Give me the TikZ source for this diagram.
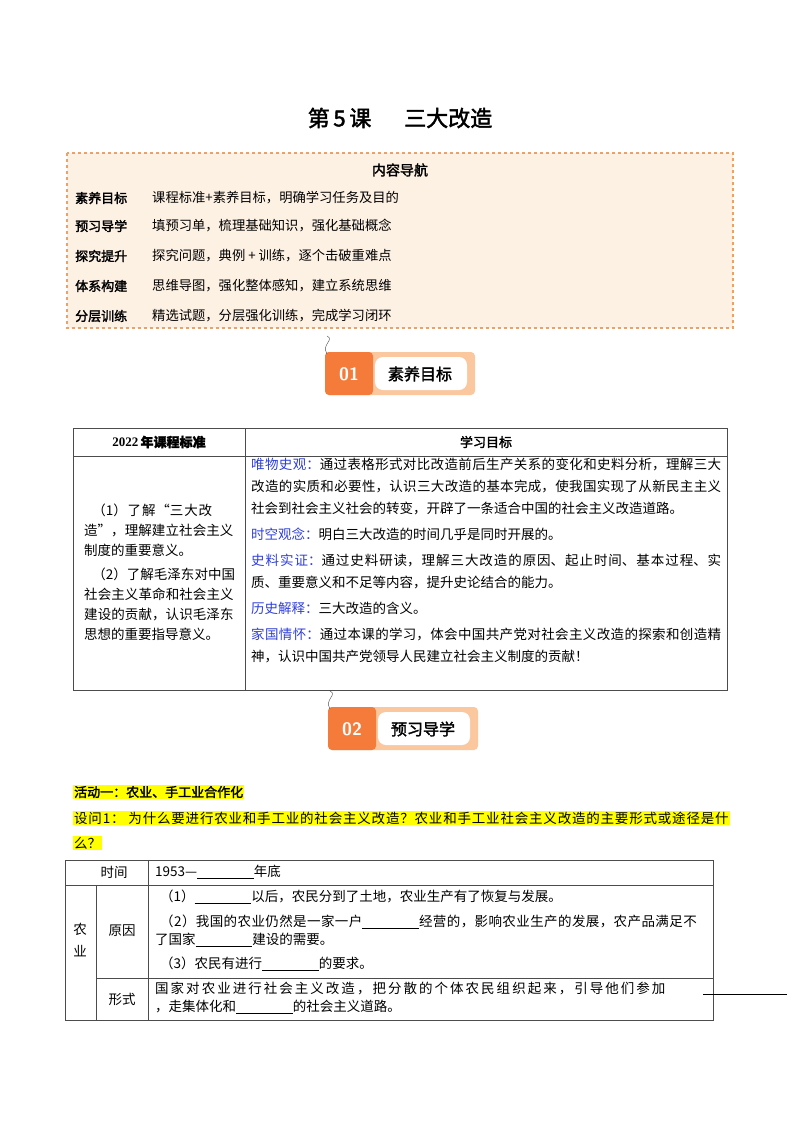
\documentclass[tikz,border=0pt]{standalone}
\usepackage{fontspec}
\setmainfont{Liberation Serif}
\newfontfamily\cjk{Noto Sans CJK SC}
\newfontfamily\cjkb{Noto Sans CJK SC}[FakeBold=2]
\XeTeXlinebreaklocale "zh"
\XeTeXlinebreakskip=0pt plus 1pt
\definecolor{navfill}{HTML}{FDF1E4}
\definecolor{navline}{HTML}{F0A060}
\definecolor{bor}{HTML}{F47B3A}
\definecolor{borl}{HTML}{FBC79F}
\definecolor{blu}{HTML}{2F3FD8}
\definecolor{hl}{HTML}{FFFF00}
\tikzset{t/.style={anchor=west,inner sep=0pt,font=\cjk\fontsize{13.5}{14}\selectfont},
 tn/.style={t,font=\cjk\fontsize{13.3}{14}\selectfont},
 tb/.style={t,font=\cjkb\fontsize{13}{14}\selectfont},
 tx/.style={t,font=\cjk\fontsize{13.5}{22}\selectfont,align=justify},
 ln/.style={draw=black!70,line width=0.8pt}}
\begin{document}
\begin{tikzpicture}[x=1pt,y=-1pt]
\useasboundingbox (0,0) rectangle (800,1132);
\node (title) at (400,118) {\cjkb\fontsize{22}{26}\selectfont 第\,5\,课\hspace{1.5em}三大改造};
% nav
\draw[navline,dashed,line width=1.2pt,fill=navfill] (67,153) rectangle (733,328);
\node (navh) at (400,170) {\cjkb\fontsize{14}{16}\selectfont 内容导航};
\foreach \y/\a/\b in {198/素养目标/课程标准+素养目标，明确学习任务及目的,
 226/预习导学/填预习单，梳理基础知识，强化基础概念,
 256/探究提升/探究问题，典例 + 训练，逐个击破重难点,
 286/体系构建/思维导图，强化整体感知，建立系统思维,
 316/分层训练/精选试题，分层强化训练，完成学习闭环}{
 \node[tb] at (75,\y) {\a}; \node[tn] at (152,\y) {\b};}
% badges
\foreach \bx/\by/\num/\lab/\nm in {325/352/01/素养目标/ba,328/707/02/预习导学/bb}{
 \fill[borl,rounded corners=4pt] (\bx,\by) rectangle ++(150,43);
 \fill[bor,rounded corners=4pt] (\bx,\by) rectangle ++(48,43);
 \fill[white,rounded corners=8pt] ({\bx+50},{\by+5}) rectangle ++(92,33);
 \node[white,font=\sffamily\bfseries\fontsize{18}{18}\selectfont] at ({\bx+24},{\by+22}) {\num};
 \node (\nm) at ({\bx+95},{\by+22}) {\cjkb\fontsize{16}{18}\selectfont \lab};
 \draw[black!70] ({\bx+2},{\by+2}) .. controls ({\bx-4},{\by-8}) and ({\bx+10},{\by-12}) .. ({\bx+2},{\by-16});
}
% table 1
\draw[ln] (73,428) rectangle (727,690);
\draw[ln] (73,456) -- (727,456);
\draw[ln] (245,428) -- (245,690);
\node (h1) at (159,442) {\bfseries\fontsize{13}{14}\selectfont 2022\,\cjkb 年课程标准};
\node (h2) at (486,442) {\cjkb\fontsize{13}{14}\selectfont 学习目标};
\node[t,font=\cjk\fontsize{13.5}{20}\selectfont,text width=152pt,align=left] at (84,572) {\hspace*{0.6em}（1）了解“三大改造”，理解建立社会主义制度的重要意义。\par\vspace{4pt}\hspace*{0.6em}（2）了解毛泽东对中国社会主义革命和社会主义建设的贡献，认识毛泽东思想的重要指导意义。};
\node[tx,text width=470pt,anchor=north west] at (251,458) {\textcolor{blu}{唯物史观：}通过表格形式对比改造前后生产关系的变化和史料分析，理解三大改造的实质和必要性，认识三大改造的基本完成，使我国实现了从新民主主义社会到社会主义社会的转变，开辟了一条适合中国的社会主义改造道路。\par\vspace{4pt}
\textcolor{blu}{时空观念：}明白三大改造的时间几乎是同时开展的。\par\vspace{4pt}
\textcolor{blu}{史料实证：}通过史料研读，理解三大改造的原因、起止时间、基本过程、实质、重要意义和不足等内容，提升史论结合的能力。\par\vspace{4pt}
\textcolor{blu}{历史解释：}三大改造的含义。\par\vspace{4pt}
\textcolor{blu}{家国情怀：}通过本课的学习，体会中国共产党对社会主义改造的探索和创造精神，认识中国共产党领导人民建立社会主义制度的贡献！};
% activity
\node[tb,fill=hl,inner sep=1pt] (act) at (73,792) {活动一：农业、手工业合作化};
\node[t,fill=hl,inner sep=1pt,font=\cjk\fontsize{13.5}{14}\addfontfeature{LetterSpace=6}\selectfont] (q1) at (73,818) {设问1：\ 为什么要进行农业和手工业的社会主义改造？农业和手工业社会主义改造的主要形式或途径是什};
\node[t,fill=hl,inner sep=1pt] (q2) at (73,843) {么？};
% table 2
\draw[ln] (65,860) rectangle (713,1020);
\draw[ln] (65,885) -- (713,885);
\draw[ln] (96,978) -- (713,978);
\draw[ln] (96,885) -- (96,1020);
\draw[ln] (148,860) -- (148,1020);
\def\bl{\underline{\hspace{4.2em}}}
\node (c1) at (114,872) {\cjk\fontsize{13.5}{14}\selectfont 时间};
\node[t] at (155,872) {1953—\bl 年底};
\node[align=center,font=\cjk\fontsize{13.5}{22}\selectfont] at (80,940) {农\\业};
\node (c2) at (122,931) {\cjk\fontsize{13.5}{14}\selectfont 原因};
\node (c3) at (122,999) {\cjk\fontsize{13.5}{14}\selectfont 形式};
\node[t] at (160,897) {（1）\bl 以后，农民分到了土地，农业生产有了恢复与发展。};
\node[t,font=\cjk\fontsize{13.5}{14}\addfontfeature{LetterSpace=3}\selectfont] at (160,922) {（2）我国的农业仍然是一家一户\bl 经营的，影响农业生产的发展，农产品满足不};
\node[t] at (155,940) {了国家\bl 建设的需要。};
\node[t] at (160,964) {（3）农民有进行\bl 的要求。};
\node[t,font=\cjk\fontsize{13.5}{14}\addfontfeature{LetterSpace=15}\selectfont] at (155,988) {国家对农业进行社会主义改造，把分散的个体农民组织起来，引导他们参加};
\node[t] at (155,1007) {，走集体化和\bl 的社会主义道路。};
\coordinate (ls) at (703,994); \coordinate (le) at (787,994);
\draw[black] (ls) -- (le);
\end{tikzpicture}
\end{document}
